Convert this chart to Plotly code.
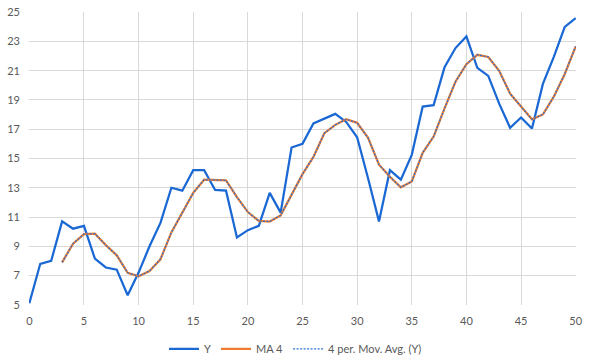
import plotly.graph_objects as go

x_vals = list(range(51))
y_vals = [5.1, 7.8, 8.0, 10.7, 10.2, 10.4, 8.15, 7.55, 7.4, 5.65,
          7.2, 9.0, 10.6, 13.0, 12.8, 14.2, 14.2, 12.85, 12.8, 9.6,
          10.1, 10.4, 12.65, 11.3, 15.75, 16.0, 17.4, 17.75, 18.05, 17.5,
          16.45, 13.65, 10.7, 14.2, 13.55, 15.25, 18.55, 18.65, 21.25, 22.55,
          23.35, 21.2, 20.65, 18.75, 17.1, 17.8, 17.05, 20.1, 21.95, 24.0,
          24.6]
ma_x = list(range(3, 51))
ma_vals = [7.9, 9.18, 9.83, 9.86, 9.08, 8.38, 7.19, 6.95, 7.31, 8.11,
           9.95, 11.35, 12.65, 13.55, 13.51, 13.51, 12.36, 11.34, 10.73, 10.69,
           11.11, 12.53, 13.93, 15.11, 16.73, 17.3, 17.68, 17.44, 16.41, 14.58,
           13.75, 13.03, 13.43, 15.39, 16.5, 18.43, 20.25, 21.45, 22.09, 21.94,
           20.99, 19.43, 18.58, 17.68, 18.01, 19.23, 20.78, 22.66]
x_ticks = [0, 5, 10, 15, 20, 25, 30, 35, 40, 45, 50]
y_ticks = [5, 7, 9, 11, 13, 15, 17, 19, 21, 23, 25]

fig = go.Figure()
fig.add_trace(go.Scatter(x=x_vals, y=y_vals, mode="lines", name="Y",
                         line=dict(color="#1a68d4", width=2.25)))
fig.add_trace(go.Scatter(x=ma_x, y=ma_vals, mode="lines", name="MA 4",
                         line=dict(color="#ED7D31", width=2.25)))
fig.add_trace(go.Scatter(x=ma_x, y=ma_vals, mode="lines", name="4 per. Mov. Avg. (Y)",
                         line=dict(color="#2a6fd2", width=1.25, dash="2px,1.5px")))

fig.update_layout(
    width=591, height=362,
    margin=dict(l=29, r=15, t=12, b=57, autoexpand=False),
    paper_bgcolor="white", plot_bgcolor="white",
    font=dict(family="Lato, Carlito, Calibri, sans-serif", size=11, color="#595959"),
    showlegend=True,
    legend=dict(orientation="h", x=0.5, xanchor="center", xref="container",
                y=0.036, yanchor="middle", yref="container",
                font=dict(size=11, color="#595959"), itemwidth=30),
)
fig.update_xaxes(range=[-0.03, 50.03], tickvals=x_ticks, showgrid=True, gridcolor="#d9d9d9",
                 gridwidth=1, zeroline=False, showline=False, ticks="",
                 ticklabelstandoff=8, automargin=False, ticklabeloverflow="allow")
fig.update_yaxes(range=[4.985, 25.015], tickvals=y_ticks, showgrid=True, gridcolor="#d9d9d9",
                 gridwidth=1, zeroline=False, showline=False, ticks="",
                 ticklabelstandoff=8, automargin=False, ticklabeloverflow="allow")

# remove the default 8px page margin so the figure fills the window exactly
fig.write_html("out.html", config={"displayModeBar": False},
               post_script="document.body.style.margin='0';")
